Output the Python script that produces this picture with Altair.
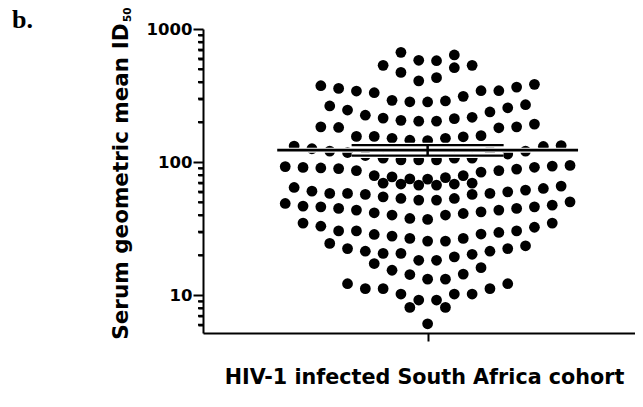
import altair as alt
import pandas as pd

# ---- data (beeswarm of serum ID50 titres) ----
swarm_x = [
    -1.5, -2.5, -0.5, 0.5, 1.5, 1.5, 2.5, -1.5, -0.5, 0.5,
    -6, -5, -4, -3, -2, -1, 0, 1, 2, 3, 4, 5, 6,
    -5.5, -4.5, -3.5, -2.5, -1.5, -0.5, 0.5, 1.5, 2.5, 3.5, 4.5, 5.5,
    -6, -5, 4, 5, 6,
    -4, -3, -2, -1, 0, 1, 2, 3,
    -7.5, -6.5, -5.5, -4.5, -3.5, -2.5, -1.5, -0.5, 0.5, 1.5, 2.5, 3.5, 4.5, 5.5, 6.5, 7.5,
    -8, -7, -6, -5, -4, 3, 4, 5, 6, 7, 8,
    -3, -2, -1, 0, 1, 2,
    -2.5, -1.5, -0.5, 0.5, 1.5, 2.5,
    -7.5, -6.5, -5.5, -4.5, -3.5, -2.5, -1.5, -0.5, 0.5, 1.5, 2.5, 3.5, 4.5, 5.5, 6.5, 7.5,
    -8, -7, -6, -5, -4, -3, -2, -1, 0, 1, 2, 3, 4, 5, 6, 7, 8,
    -7, -6, -5, -4, -3, -2, -1, 0, 1, 2, 3, 4, 5, 6, 7,
    -5.5, -4.5, -3.5, -2.5, -1.5, -0.5, 0.5, 1.5, 2.5, 3.5, 4.5, 5.5,
    -3, -2, -1, 0, 1, 2, 3,
    -4.5, -3.5, -2.5, -1.5, -0.5, -1, 0.5, 1, 1.5, 2.5, 3.5, 4.5, 0,
]
id50 = [
    668, 533, 582, 578, 638, 512, 533, 472, 408, 431,
    375, 358, 342, 332, 291, 284, 283, 288, 312, 344, 344, 366, 384,
    264, 246, 225, 214, 206, 203, 203, 212, 217, 238, 256, 270,
    184, 182, 181, 184, 193,
    156, 156, 151, 146, 145, 151, 155, 158,
    132, 126, 121, 118, 112, 107, 104, 104, 104, 107, 107, 122, 115, 121, 131, 133,
    92.5, 91.2, 90.4, 89.4, 86.3, 84.1, 86.3, 88.6, 91.4, 93.3, 94.4,
    79.2, 77.5, 74.8, 74.5, 76.4, 79.2,
    69.5, 68.4, 67.2, 67.2, 68.4, 69.5,
    64.5, 60.5, 58.2, 58.2, 57.2, 54.8, 53.3, 51.8, 51.8, 53.3, 57.2, 58.2, 59.8, 61.6, 63.4, 66.0,
    48.9, 46.7, 46.1, 44.9, 43.6, 41.6, 40.0, 37.7, 37.1, 40.0, 41.1, 42.3, 43.6, 44.9, 46.1, 47.5, 50.3,
    34.8, 33.0, 30.4, 30.4, 28.6, 27.8, 26.7, 25.5, 25.5, 26.7, 28.8, 29.6, 30.4, 32.4, 34.8,
    24.5, 22.4, 21.4, 20.6, 20.6, 18.3, 18.3, 19.4, 20.3, 21.4, 22.4, 23.5,
    17.3, 15.4, 14.3, 13.2, 13.2, 14.4, 16.1,
    12.2, 11.2, 11.2, 10.2, 9.2, 8.1, 9.2, 8.1, 10.2, 10.2, 11.2, 12.2, 6.1,
]
mean_id50 = [123]
sem_low = [112]
sem_high = [134]
major_ticks = [10, 100, 1000]
minor_ticks = [6, 7, 8, 9, 20, 30, 40, 50, 60, 70, 80, 90,
               200, 300, 400, 500, 600, 700, 800, 900]
x_title = "HIV-1 infected South Africa cohort"
y_title = "Serum geometric mean ID"
y_sub = ["50"]
panel_label = ["b."]

# ---- style ----
FONT = "DejaVu Sans"
mean_half = 8.45
cap_half = 4.27

pts = pd.DataFrame({"x": swarm_x, "v": id50})
mean_df = pd.DataFrame({"x": [-mean_half], "x2": [mean_half], "v": mean_id50})
cap_df = pd.DataFrame({"x": [-cap_half, -cap_half], "x2": [cap_half, cap_half],
                       "v": sem_low + sem_high})
err_df = pd.DataFrame({"x": [0], "v": sem_low, "hi": sem_high})
minor_df = pd.DataFrame({"v": minor_ticks})

xscale = alt.Scale(domain=[-12.62, 11.65], nice=False, zero=False)
yscale = alt.Scale(type="log", domain=[5.2, 1000], nice=False)

is_major = "indexof([10, 100, 1000], datum.value) >= 0"

xaxis = alt.Axis(values=[0], labels=False, tickSize=8, tickWidth=2,
                 tickColor="black", domainColor="black", domainWidth=2,
                 grid=False, title=x_title, titleFont=FONT, titleFontSize=20.7,
                 titleFontWeight="bold", titleColor="black", titleX=221,
                 titleY=50, titleBaseline="alphabetic", titleAlign="center")
yaxis = alt.Axis(values=sorted(major_ticks + minor_ticks), format="d",
                 labelExpr=f"{is_major} ? datum.label : ''",
                 labelOverlap=False, labelFlush=False,
                 tickSize=10, tickWidth=2,
                 tickDash={"condition": {"test": is_major, "value": [20, 1]},
                           "value": [5, 20]},
                 tickColor="black", domainColor="black", domainWidth=2,
                 grid=False, labelPadding=1, labelFont=FONT, labelFontSize=16.5,
                 labelFontWeight="bold", labelColor="black",
                 title=y_title, titleFont=FONT, titleFontSize=21.5,
                 titleFontWeight="bold", titleColor="black", titleAngle=270,
                 titleAlign="right", titleBaseline="alphabetic",
                 titleX=-76, titleY=-6)

X = alt.X("x:Q", scale=xscale, axis=xaxis)
Y = alt.Y("v:Q", scale=yscale, axis=yaxis)

dots = alt.Chart(pts).mark_circle(size=116, color="black", opacity=1).encode(
    x=X, y=Y,
)

def hline(df, color, width):
    return alt.Chart(df).mark_rule(color=color, strokeWidth=width).encode(
        x=X, x2="x2:Q", y=Y,
    )

err_v = alt.Chart(err_df).mark_rule(color="black", strokeWidth=2.5).encode(
    x=X, y=Y, y2="hi:Q",
)

minor = alt.Chart(minor_df).mark_rule(color="black", strokeWidth=2).encode(
    y=Y, x=alt.value(-5), x2=alt.value(0),
)

sub = alt.Chart(pd.DataFrame({"t": y_sub})).mark_text(
    angle=270, align="left", baseline="alphabetic", font=FONT,
    fontSize=10.5, fontWeight="bold", color="black",
).encode(x=alt.value(-72), y=alt.value(-7), text="t:N")

panel = alt.Chart(pd.DataFrame({"t": panel_label})).mark_text(
    align="left", baseline="alphabetic", font="Liberation Serif",
    fontSize=26, fontWeight="bold", color="black",
).encode(x=alt.value(-191), y=alt.value(-1), text="t:N")

chart = alt.layer(
    dots,
    hline(cap_df, "white", 5), hline(mean_df, "white", 5),
    err_v,
    hline(cap_df, "black", 2.2), hline(mean_df, "black", 2.6),
    minor, sub, panel,
).properties(
    width=432, height=304,
    padding={"left": 195, "top": 21, "right": 0, "bottom": 60},
    autosize="none",
).configure_view(stroke="transparent")

chart.save("out.html", embed_options={"renderer": "svg", "actions": False})
